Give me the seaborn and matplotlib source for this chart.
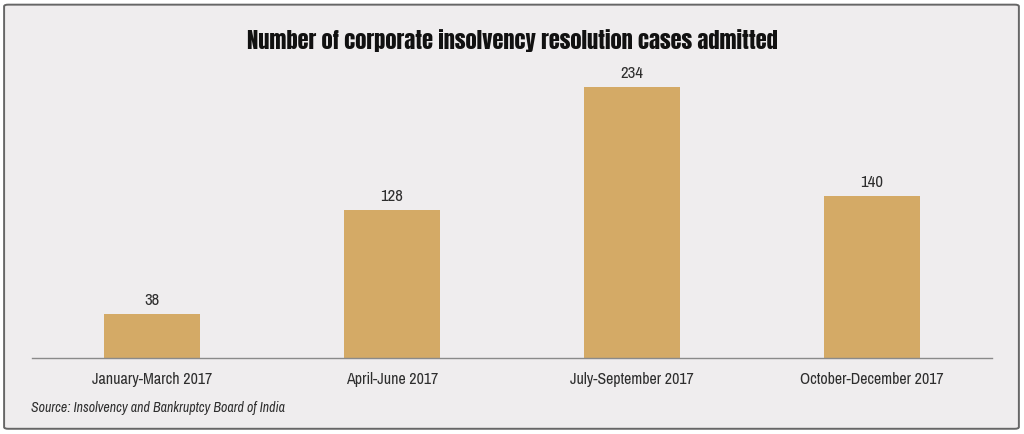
import matplotlib
matplotlib.use("Agg")
import matplotlib.pyplot as plt
import seaborn as sns
import pandas as pd
from matplotlib.patches import FancyBboxPatch

# chart data
periods = ["January-March 2017", "April-June 2017", "July-September 2017", "October-December 2017"]
cases = [38, 128, 234, 140]
title = "Number of corporate insolvency resolution cases admitted"
source = "Source: Insolvency and Bankruptcy Board of India"

bg = "#efedee"
bar_color = "#d4aa66"
text_color = "#2e2e2e"

sns.set_theme(style="white")
plt.rcParams["font.family"] = ["Archivo Narrow", "Liberation Sans Narrow", "DejaVu Sans"]

df = pd.DataFrame({"period": periods, "cases": cases})

fig = plt.figure(figsize=(10.24, 4.35), dpi=100, facecolor="white")
# rounded frame round the whole chart, kept behind the axes
frame = FancyBboxPatch((0.004, 0.012), 0.991, 0.975, boxstyle="round,pad=0,rounding_size=0.004",
                       transform=fig.transFigure, facecolor=bg, edgecolor="#666666",
                       linewidth=1.4, zorder=-10)
fig.patches.append(frame)

ax = fig.add_axes([0.03125, 0.1747, 0.9375, 0.6655])
ax.set_facecolor("none")
sns.barplot(data=df, x="period", y="cases", color=bar_color, width=0.4, saturation=1,
            linewidth=0, ax=ax)

ax.set_xlim(-0.5, 3.5)
ax.set_ylim(0, 250)
ax.set_xlabel("")
ax.set_ylabel("")
ax.set_yticks([])
for side in ["top", "right", "left"]:
    ax.spines[side].set_visible(False)
ax.spines["bottom"].set_color("#8a8a8a")
ax.spines["bottom"].set_linewidth(1.0)

ax.tick_params(axis="x", which="major", length=0, labelsize=11.5, labelcolor=text_color, pad=9)
ax.set_xticks([0.5, 1.5, 2.5], minor=True)
ax.tick_params(axis="x", which="minor", length=4, width=0.8, color="#8a8a8a", direction="out")

for i, v in enumerate(cases):
    ax.annotate(str(v), (i, v), xytext=(0, 5), textcoords="offset points",
                ha="center", va="bottom", fontsize=12, color=text_color)

fig.text(0.5, 0.907, title, ha="center", va="center", fontsize=16.2,
         family=["Anton", "DejaVu Sans"], color="#111111")
fig.text(0.03, 0.062, source, ha="left", va="center", fontsize=10, style="italic", color=text_color)

fig.savefig("out.png", dpi=100, facecolor="white")
